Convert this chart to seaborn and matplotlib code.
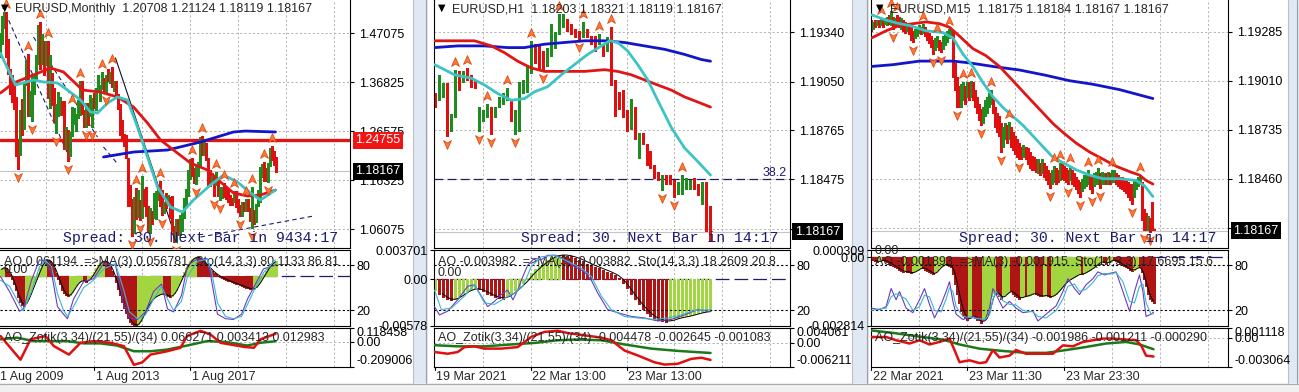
import numpy as np
import pandas as pd
import matplotlib
matplotlib.use("Agg")
import matplotlib.pyplot as plt
import matplotlib.transforms as mtransforms
from matplotlib.path import Path
from matplotlib.patches import Rectangle
import seaborn as sns

# ---------------- EURUSD Monthly (left window), Aug 2009 .. Mar 2021 ----------------
mn_open0 = 1.4150
mn_high = [1.4447, 1.4721, 1.5061, 1.5144, 1.5145,
           1.4580, 1.3966, 1.3841, 1.3695, 1.3373, 1.2468, 1.3111, 1.3334, 1.3649, 1.4158, 1.4283, 1.3500,
           1.3862, 1.3862, 1.4249, 1.4880, 1.4940, 1.4699, 1.4539, 1.4549, 1.4550, 1.4247, 1.3876, 1.3555,
           1.3234, 1.3487, 1.3385, 1.3283, 1.3283, 1.2747, 1.2691, 1.2637, 1.3172, 1.3140, 1.3011, 1.3308,
           1.3711, 1.3711, 1.3100, 1.3244, 1.3243, 1.3415, 1.3345, 1.3452, 1.3568, 1.3832, 1.3620, 1.3893,
           1.3775, 1.3825, 1.3967, 1.3906, 1.3993, 1.3700, 1.3700, 1.3443, 1.3221, 1.2887, 1.2600, 1.2570,
           1.2100, 1.1534, 1.1240, 1.1290, 1.1467, 1.1436, 1.1215, 1.1714, 1.1460, 1.1495, 1.1094, 1.1060,
           1.0985, 1.1376, 1.1410, 1.1464, 1.1616, 1.1428, 1.1186, 1.1366, 1.1327, 1.1278, 1.1300, 1.0675,
           1.0829, 1.0829, 1.0906, 1.0950, 1.1268, 1.1446, 1.1846, 1.2070, 1.2092, 1.1880, 1.1961, 1.2023,
           1.2537, 1.2556, 1.2476, 1.2414, 1.2097, 1.1852, 1.1791, 1.1745, 1.1815, 1.1625, 1.1500, 1.1486,
           1.1570, 1.1489, 1.1448, 1.1324, 1.1265, 1.1412, 1.1412, 1.1249, 1.1109, 1.1179, 1.1175, 1.1240,
           1.1239, 1.1053, 1.1495, 1.1019, 1.1147, 1.1422, 1.1909, 1.1966, 1.2011, 1.1881, 1.1985, 1.2310,
           1.2349, 1.2243, 1.2112]
mn_low = [1.4046, 1.4212, 1.4483, 1.4826, 1.4219,
          1.3858, 1.3444, 1.3267, 1.3114, 1.2143, 1.1876, 1.2153, 1.2589, 1.2709, 1.3628, 1.2970, 1.2969,
          1.2872, 1.3429, 1.3748, 1.4058, 1.3968, 1.4072, 1.3837, 1.4052, 1.3361, 1.3145, 1.3211, 1.2858,
          1.2624, 1.2974, 1.3003, 1.2995, 1.2286, 1.2288, 1.2042, 1.2134, 1.2563, 1.2802, 1.2661, 1.2927,
          1.3000, 1.3019, 1.2746, 1.2745, 1.2796, 1.2981, 1.2755, 1.3150, 1.3105, 1.3478, 1.3296, 1.3548,
          1.3478, 1.3476, 1.3705, 1.3673, 1.3590, 1.3503, 1.3366, 1.3131, 1.2571, 1.2500, 1.2358, 1.2097,
          1.1097, 1.1098, 1.0458, 1.0520, 1.0818, 1.0868, 1.0809, 1.0845, 1.1087, 1.0896, 1.0558, 1.0522,
          1.0711, 1.0835, 1.0821, 1.1217, 1.1098, 1.0912, 1.0952, 1.1045, 1.1122, 1.0852, 1.0569, 1.0352,
          1.0340, 1.0494, 1.0495, 1.0570, 1.0839, 1.1119, 1.1313, 1.1662, 1.1717, 1.1574, 1.1554, 1.1718,
          1.1915, 1.2155, 1.2155, 1.2055, 1.1510, 1.1508, 1.1575, 1.1301, 1.1525, 1.1301, 1.1216, 1.1268,
          1.1289, 1.1233, 1.1176, 1.1111, 1.1107, 1.1181, 1.1070, 1.0960, 1.0879, 1.0879, 1.0981, 1.0981,
          1.0992, 1.0778, 1.0636, 1.0727, 1.0766, 1.1100, 1.1185, 1.1696, 1.1612, 1.1622, 1.1603, 1.1925,
          1.2055, 1.1952, 1.1812]
mn_close = [1.4325, 1.4637, 1.4719, 1.5005, 1.4321,
            1.3867, 1.3626, 1.3510, 1.3295, 1.2276, 1.2230, 1.3049, 1.2693, 1.3630, 1.3912, 1.2990, 1.3384,
            1.3692, 1.3806, 1.4163, 1.4806, 1.4390, 1.4500, 1.4393, 1.4397, 1.3390, 1.3860, 1.3449, 1.2960,
            1.3082, 1.3327, 1.3341, 1.3236, 1.2356, 1.2663, 1.2304, 1.2577, 1.2859, 1.2960, 1.2986, 1.3193,
            1.3577, 1.3055, 1.2819, 1.3168, 1.2999, 1.3008, 1.3302, 1.3222, 1.3524, 1.3582, 1.3590, 1.3743,
            1.3486, 1.3803, 1.3769, 1.3869, 1.3636, 1.3692, 1.3389, 1.3131, 1.2629, 1.2525, 1.2452, 1.2100,
            1.1290, 1.1196, 1.0731, 1.1225, 1.0986, 1.1146, 1.0980, 1.1212, 1.1177, 1.1003, 1.0565, 1.0857,
            1.0831, 1.0873, 1.1380, 1.1451, 1.1130, 1.1102, 1.1174, 1.1157, 1.1240, 1.0983, 1.0589, 1.0520,
            1.0798, 1.0576, 1.0652, 1.0896, 1.1244, 1.1425, 1.1842, 1.1906, 1.1814, 1.1646, 1.1902, 1.2005,
            1.2414, 1.2194, 1.2324, 1.2079, 1.1693, 1.1684, 1.1690, 1.1600, 1.1604, 1.1310, 1.1316, 1.1467,
            1.1448, 1.1372, 1.1216, 1.1215, 1.1168, 1.1372, 1.1077, 1.0985, 1.0899, 1.1152, 1.1018, 1.1212,
            1.1093, 1.1025, 1.1030, 1.0955, 1.1100, 1.1232, 1.1778, 1.1936, 1.1720, 1.1646, 1.1928, 1.2216,
            1.2136, 1.2071, 1.1817]
mn_ma_fast_x = [1.5, 9, 18, 23, 30, 35, 41.5, 46.5, 50, 55, 60, 65, 70, 75, 80, 86.5, 92.5, 98, 106.5, 113, 120, 126.5, 131.5, 139]
mn_ma_fast = [1.4289, 1.3626, 1.3731, 1.3689, 1.3668, 1.3521, 1.3312, 1.3061, 1.3040, 1.3249, 1.3375, 1.3312,
              1.2747, 1.2119, 1.1492, 1.1073, 1.0969, 1.1220, 1.1534, 1.1743, 1.1597, 1.1367, 1.1220, 1.1429]
mn_ma_mid_x = [1.5, 8, 18, 26.5, 33, 42.5, 51.5, 60, 68, 75, 81.5, 88, 96.5, 105, 111.5, 118, 125, 131.5, 139]
mn_ma_mid = [1.3459, 1.3668, 1.3835, 1.3982, 1.3898, 1.3521, 1.3479, 1.3375, 1.3166, 1.2831, 1.2475, 1.2266,
             1.1994, 1.1848, 1.1597, 1.1367, 1.1304, 1.1325, 1.1429]
mn_ma_slow_x = [53, 68, 85, 101.5, 118, 124, 139]
mn_ma_slow = [1.2120, 1.2224, 1.2266, 1.2433, 1.2643, 1.2663, 1.2643]
mn_ao = [0.020, 0.028, 0.034, 0.036, 0.032, 0.022, 0.008, -0.010, -0.032, -0.055,
         -0.080, -0.100, -0.112, -0.115, -0.104, -0.088, -0.068, -0.048, -0.028, -0.010,
         0.012, 0.032, 0.050, 0.060, 0.066, 0.066, 0.060, 0.048, 0.032, 0.012,
         -0.010, -0.032, -0.052, -0.066, -0.075, -0.078, -0.072, -0.060, -0.046, -0.034,
         -0.024, -0.018, -0.016, -0.020, -0.022, -0.016, -0.008, 0.004, 0.018, 0.032,
         0.044, 0.054, 0.060, 0.062, 0.060, 0.052, 0.040, 0.022, 0.002, -0.022,
         -0.048, -0.074, -0.100, -0.124, -0.146, -0.164, -0.178, -0.187, -0.192, -0.194,
         -0.188, -0.176, -0.160, -0.142, -0.126, -0.112, -0.100, -0.090, -0.082, -0.078,
         -0.074, -0.070, -0.068, -0.070, -0.074, -0.078, -0.080, -0.076, -0.066, -0.052,
         -0.036, -0.018, 0.000, 0.018, 0.034, 0.048, 0.060, 0.068, 0.074, 0.076,
         0.075, 0.071, 0.064, 0.056, 0.047, 0.038, 0.029, 0.021, 0.014, 0.008,
         0.003, -0.002, -0.006, -0.010, -0.014, -0.017, -0.020, -0.023, -0.026, -0.029,
         -0.032, -0.035, -0.038, -0.041, -0.044, -0.047, -0.049, -0.050, -0.048, -0.042,
         -0.032, -0.020, -0.006, 0.008, 0.022, 0.034, 0.044, 0.052, 0.058, 0.061]
mn_sto_x = [1.5, 6, 11, 13, 17, 21, 24, 27, 30, 33, 35, 38, 43, 48, 53, 59, 63, 66, 70, 74,
            78, 82, 85, 88, 92, 95, 100, 105, 107, 110, 114, 118, 122, 125, 128, 133, 139]
mn_sto_k = [65, 45, 19, 22, 60, 87, 85, 70, 25, 15, 9, 35, 58, 62, 82, 80, 30, 10, 8, 18,
            45, 55, 22, 18, 40, 80, 88, 88, 60, 15, 9, 8, 15, 35, 50, 75, 80]
mn_sto_d = [60, 52, 28, 20, 45, 78, 86, 78, 42, 20, 12, 25, 50, 60, 75, 82, 48, 18, 9, 14,
            35, 52, 35, 20, 32, 65, 85, 88, 72, 30, 12, 9, 12, 28, 45, 70, 87]
mn_zr_x = [1.5, 11.5, 16.5, 24, 28.2, 35.7, 41.5, 48.2, 56.5, 63.2, 68.2, 72.3, 76.5, 84.8, 91.5, 94.8,
           101.5, 106.5, 111.5, 123.2, 128.2, 131.5, 139]
mn_zr = [0.047, -0.152, 0.019, 0.047, -0.038, -0.109, -0.010, 0.004, -0.010, -0.038, -0.195, -0.175,
         -0.109, -0.081, -0.052, 0.047, 0.090, 0.060, -0.010, -0.044, -0.052, 0.019, 0.066]
mn_zg_x = [1.5, 9.8, 18.2, 34.8, 43.2, 51.5, 59.8, 68.2, 76.5, 84.8, 94.8, 104.8, 114.8, 124.8, 131.5, 139]
mn_zg = [0.019, 0.033, 0.004, 0.004, -0.015, -0.015, -0.033, -0.081, -0.081, -0.067, -0.033, 0.004,
         -0.004, -0.033, -0.010, 0.0034]
mn_trend = [([4, 36.5], [1.513, 1.2057], '--'), ([18, 50], [1.463, 1.2538], '--'),
            ([53, 60.5], [1.233, 1.1952], '--'), ([59, 90], [1.4191, 1.0321], '-'),
            ([101.5, 158], [1.0446, 1.0885], '--')]

# ---------------- EURUSD H1 (middle window), 19 Mar 13:00 .. 24 Mar 10:00 ----------------
h1_high = [1.1898, 1.1909, 1.1904, 1.1904, 1.1886, 1.1912, 1.1911, 1.1911, 1.1913, 1.1909,
           1.1906, 1.1890, 1.1888, 1.1892, 1.1890, 1.1890, 1.1896, 1.1898, 1.1901, 1.1894,
           1.1888, 1.1905, 1.1906, 1.1914, 1.1929, 1.1927, 1.1927, 1.1923, 1.1925, 1.1939,
           1.1934, 1.1945, 1.1945, 1.1942, 1.1939, 1.1936, 1.1935, 1.1940, 1.1936, 1.1932,
           1.1932, 1.1933, 1.1927, 1.1931, 1.1937, 1.1906, 1.1899, 1.1900, 1.1888, 1.1895,
           1.1890, 1.1875, 1.1875, 1.1868, 1.1864, 1.1856, 1.1852, 1.1850, 1.1850, 1.1850,
           1.1847, 1.1846, 1.1850, 1.1848, 1.1847, 1.1848, 1.1845, 1.1846, 1.1846, 1.1832]
h1_low = [1.1890, 1.1894, 1.1896, 1.1873, 1.1876, 1.1884, 1.1900, 1.1905, 1.1906, 1.1902,
          1.1901, 1.1876, 1.1882, 1.1884, 1.1874, 1.1884, 1.1890, 1.1892, 1.1894, 1.1882,
          1.1874, 1.1876, 1.1898, 1.1899, 1.1910, 1.1916, 1.1913, 1.1912, 1.1914, 1.1920,
          1.1925, 1.1933, 1.1937, 1.1935, 1.1933, 1.1931, 1.1930, 1.1931, 1.1931, 1.1927,
          1.1923, 1.1927, 1.1920, 1.1923, 1.1903, 1.1885, 1.1889, 1.1884, 1.1876, 1.1877,
          1.1871, 1.1860, 1.1868, 1.1856, 1.1854, 1.1848, 1.1847, 1.1841, 1.1845, 1.1845,
          1.1837, 1.1839, 1.1839, 1.1842, 1.1842, 1.1842, 1.1838, 1.1833, 1.1817, 1.1812]
h1_dir = ("duuduududd" "duuuduuuud" "uuuuuddduu" "uuuddddudd" "dudu" "ddddd" "u"
          "du" "ddddd" "udd" "d" "uuuu" "dd" "u" "dd")
h1_ma_fast_x = [0, 5, 9.2, 12.5, 15.8, 19.2, 22.5, 25, 28.3, 31.7, 35, 38.3, 41.7, 43.75, 45.8, 48.3,
                50.8, 53.3, 55.8, 59.2, 62.5, 65.8, 69]
h1_ma_fast = [1.1915, 1.1909, 1.1907, 1.1903, 1.1898, 1.1894, 1.1895, 1.1899, 1.1902, 1.1909, 1.1915,
              1.1921, 1.1926, 1.1929, 1.1928, 1.1923, 1.1915, 1.1906, 1.1894, 1.1878, 1.1866, 1.1858, 1.1850]
h1_ma_mid_x = [0, 5.8, 10, 14.2, 17.5, 20.8, 24.2, 27.5, 32.5, 37.5, 42.5, 45.8, 49.2, 52.5, 55.8, 59.2, 62.5, 65.8, 69]
h1_ma_mid = [1.1929, 1.1929, 1.1929, 1.1926, 1.1922, 1.1917, 1.1913, 1.1911, 1.1911, 1.1911, 1.1912,
             1.1911, 1.1909, 1.1906, 1.1903, 1.1900, 1.1896, 1.1893, 1.1890]
h1_ma_slow_x = [0, 5.8, 12.5, 18.3, 22.5, 27.5, 32.5, 37.5, 42.5, 47.5, 52.5, 57.5, 62.5, 66.7, 69]
h1_ma_slow = [1.1925, 1.1926, 1.1926, 1.1925, 1.1925, 1.1927, 1.1928, 1.1929, 1.1929, 1.1928, 1.1926,
              1.1924, 1.1921, 1.1918, 1.1917]
h1_ao = [-0.0013, -0.0018, -0.0022, -0.0025, -0.0026,
         -0.0024, -0.0021, -0.0017, -0.0014, -0.0012, -0.0011,
         -0.0012, -0.0015, -0.0018, -0.0020, -0.0022, -0.0023, -0.0024,
         -0.0021, -0.0017, -0.0013, -0.0009, -0.0004, 0.0002, 0.0008,
         0.0013, 0.0017, 0.0021, 0.0025, 0.0028, 0.0030, 0.0031, 0.0031, 0.0030, 0.0029,
         0.0027, 0.0025, 0.0023, 0.0020, 0.0018, 0.0016, 0.0014, 0.0012, 0.0010, 0.0008, 0.0005, 0.0002,
         -0.0004, -0.0011, -0.0018, -0.0025, -0.0031, -0.0037, -0.0042, -0.0046, -0.0049, -0.0051, -0.0052, -0.0053,
         -0.0051, -0.0049, -0.0048, -0.0047, -0.0046, -0.0045, -0.0043, -0.0042, -0.0041, -0.0040, -0.00398]
h1_sto_kx = [0, 1.25, 3.3, 5.8, 8.3, 10, 11.7, 13.3, 15, 16.7, 18.3, 19.6, 20.8, 22.1, 23.3, 25, 26.7,
             28.3, 30.4, 32.5, 35, 37.5, 39.2, 40.8, 43.3, 45.8, 49.2, 52.5, 55.8, 59.2, 62.5, 65.8, 69]
h1_sto_k = [25, 14, 19, 34, 52, 54, 39, 25, 32, 41, 47, 34, 47, 65, 80, 89, 87, 93, 93, 87, 78, 71, 60,
            43, 21, 17, 12, 10, 6, 8, 14, 21, 18.3]
h1_sto_dx = [0, 1.7, 4.2, 7.5, 10, 12.5, 15, 17.5, 20, 22.1, 24.2, 26.7, 30, 33.3, 36.7, 39.2, 41.7,
             44.2, 47.5, 50.8, 55, 58.3, 61.7, 65, 69]
h1_sto_d = [47, 21, 23, 39, 54, 30, 28, 36, 43, 52, 78, 91, 93, 85, 76, 65, 39, 21, 12, 10, 8, 10, 14, 20, 20.8]
h1_zr_x = [0, 3.3, 5.8, 7.5, 10, 12.5, 16.7, 20.8, 24.2, 27.5, 30.8, 33.3, 37.5, 41.7, 44.2, 47.5, 50.8,
           55, 57.5, 60.8, 64.2, 66.7, 69]
h1_zr = [-0.0024, -0.00285, -0.0024, -0.0011, -0.0009, -0.0015, -0.0015, -0.0011, 0.0016, 0.0029, 0.0032,
         0.0026, 0.0020, 0.0014, 0.0007, -0.0020, -0.0033, -0.0051, -0.0057, -0.0055, -0.0042, -0.0039, -0.00448]
h1_zg_x = [0, 5.8, 12.5, 19.2, 25, 30.8, 35.8, 41.7, 47.5, 54.2, 60.8, 69]
h1_zg = [-0.0006, -0.0009, -0.0009, -0.0004, 0.0, 0.0007, 0.0009, 0.0007, -0.0004, -0.0015, -0.0021, -0.00265]

# ---------------- EURUSD M15 (right window), 22 Mar 23:30 .. 24 Mar 10:45 ----------------
m15_high = [1.1935, 1.1934, 1.1935, 1.1935, 1.1935, 1.1936, 1.1935, 1.1936, 1.1937, 1.1938,
            1.1940, 1.1937, 1.1936, 1.1938, 1.1937, 1.1936, 1.1935, 1.1934, 1.1933, 1.1932,
            1.1931, 1.1929, 1.1930, 1.1931, 1.1932, 1.1931, 1.1933, 1.1931, 1.1929, 1.1928,
            1.1926, 1.1924, 1.1925, 1.1926, 1.1924, 1.1923, 1.1926, 1.1927, 1.1929, 1.1930,
            1.1930, 1.1929, 1.1911, 1.1903, 1.1898, 1.1899, 1.1900, 1.1898, 1.1900, 1.1900,
            1.1901, 1.1900, 1.1896, 1.1892, 1.1888, 1.1885, 1.1886, 1.1890, 1.1892, 1.1894,
            1.1896, 1.1892, 1.1886, 1.1883, 1.1881, 1.1877, 1.1875, 1.1877, 1.1876, 1.1878,
            1.1875, 1.1872, 1.1870, 1.1868, 1.1866, 1.1864, 1.1865, 1.1864, 1.1863, 1.1861,
            1.1859, 1.1858, 1.1857, 1.1857, 1.1855, 1.1857, 1.1855, 1.1853, 1.1851, 1.1849,
            1.1851, 1.1853, 1.1852, 1.1851, 1.1855, 1.1854, 1.1853, 1.1852, 1.1851, 1.1853,
            1.1851, 1.1849, 1.1847, 1.1845, 1.1844, 1.1846, 1.1848, 1.1849, 1.1851, 1.1848,
            1.1847, 1.1849, 1.1850, 1.1852, 1.1849, 1.1850, 1.1849, 1.1849, 1.1850, 1.1849,
            1.1851, 1.1851, 1.1849, 1.1848, 1.1847, 1.1847, 1.1846, 1.1845, 1.1844, 1.1843,
            1.1843, 1.1845, 1.1846, 1.1847, 1.1848, 1.1844, 1.1829, 1.1827, 1.1825, 1.1824,
            1.1833, 1.1818]
m15_low = [1.1929, 1.1930, 1.1931, 1.1932, 1.1931, 1.1932, 1.1931, 1.1933, 1.1932, 1.1933,
           1.1932, 1.1930, 1.1931, 1.1932, 1.1931, 1.1930, 1.1929, 1.1928, 1.1929, 1.1927,
           1.1924, 1.1923, 1.1925, 1.1926, 1.1928, 1.1927, 1.1928, 1.1926, 1.1924, 1.1922,
           1.1920, 1.1916, 1.1918, 1.1920, 1.1918, 1.1917, 1.1919, 1.1921, 1.1923, 1.1925,
           1.1926, 1.1903, 1.1896, 1.1886, 1.1886, 1.1886, 1.1890, 1.1888, 1.1892, 1.1890,
           1.1892, 1.1890, 1.1886, 1.1883, 1.1879, 1.1876, 1.1877, 1.1881, 1.1883, 1.1886,
           1.1888, 1.1883, 1.1875, 1.1872, 1.1870, 1.1861, 1.1864, 1.1868, 1.1866, 1.1868,
           1.1864, 1.1862, 1.1860, 1.1858, 1.1857, 1.1857, 1.1858, 1.1857, 1.1854, 1.1852,
           1.1851, 1.1851, 1.1850, 1.1849, 1.1848, 1.1849, 1.1847, 1.1845, 1.1843, 1.1841,
           1.1843, 1.1844, 1.1843, 1.1844, 1.1845, 1.1846, 1.1845, 1.1844, 1.1843, 1.1845,
           1.1843, 1.1842, 1.1840, 1.1838, 1.1836, 1.1839, 1.1841, 1.1842, 1.1843, 1.1840,
           1.1838, 1.1842, 1.1843, 1.1843, 1.1841, 1.1843, 1.1843, 1.1843, 1.1843, 1.1843,
           1.1844, 1.1844, 1.1843, 1.1842, 1.1841, 1.1840, 1.1839, 1.1838, 1.1836, 1.1834,
           1.1832, 1.1836, 1.1840, 1.1842, 1.1843, 1.1823, 1.1817, 1.1817, 1.1817, 1.1816,
           1.1817, 1.1817]
m15_dir = ("dudududuud" "ududduddud" "dduuududdd" "dduudduuuu" "udddduudud"
           "u" "ddddd" "uuuu" "u" "ddddd" "uu" "d" "u" "dddddd" "u" "ddd"
           "ddd" "u" "d" "u" "dddd" "uu" "dd" "u" "dddd" "u" "ddddd" "uuuu" "d"
           "d" "uuu" "d" "uu" "d" "u" "d" "uu" "dddddddd" "d" "uuuu" "ddd" "u" "d" "dd")
m15_ma_fast_x = [0, 7.3, 14, 19, 27.3, 35.7, 40.7, 45.7, 50.7, 55.7, 60.7, 65.7, 70.7, 75.7, 80.7, 85.7,
                 90.7, 95.7, 102.3, 109, 115.7, 124, 132.3, 136.5, 140.7]
m15_ma_fast = [1.1938, 1.1935, 1.1933, 1.1932, 1.1929, 1.1928, 1.1925, 1.1916, 1.1909, 1.1900, 1.1892,
               1.1886, 1.1881, 1.1876, 1.1870, 1.1864, 1.1858, 1.1855, 1.1851, 1.1848, 1.1846, 1.1846,
               1.1845, 1.1842, 1.1836]
m15_ma_mid_x = [0, 7.3, 14, 20.7, 27.3, 34, 39, 44, 50.7, 57.3, 64, 70.7, 77.3, 84, 90.7, 95.7, 102.3,
                109, 115.7, 122.3, 129, 134, 137.3, 140.7]
m15_ma_mid = [1.1925, 1.1929, 1.1932, 1.1933, 1.1934, 1.1933, 1.1931, 1.1926, 1.1919, 1.1915, 1.1909,
              1.1901, 1.1893, 1.1885, 1.1877, 1.1872, 1.1866, 1.1861, 1.1857, 1.1853, 1.1850, 1.1848,
              1.1845, 1.1843]
m15_ma_slow_x = [0, 10.7, 24, 40.7, 49, 60.7, 74, 87.3, 99, 110.7, 124, 134, 140.7]
m15_ma_slow = [1.1909, 1.1910, 1.1912, 1.1912, 1.1911, 1.1909, 1.1907, 1.1904, 1.1901, 1.1899, 1.1896,
               1.1893, 1.1891]
m15_ao = [-0.0001, -0.0001, -0.00015, -0.0002, -0.00015, -0.0001, -0.0001, -0.00015, -0.0002,
          -0.00025, -0.0003, -0.00035, -0.0004, -0.00045, -0.0005, -0.00055, -0.0006, -0.00058,
          -0.0006, -0.00062, -0.00065, -0.0006, -0.00055, -0.0005, -0.00045,
          -0.0004, -0.00045, -0.0005, -0.00055, -0.0006, -0.00065, -0.0007, -0.0006,
          -0.0005, -0.0004, -0.00035, -0.0003, -0.00025, -0.0003, -0.00035, -0.0004,
          -0.0007, -0.0011, -0.0015, -0.0019, -0.0022, -0.0024, -0.0025, -0.0026, -0.0025,
          -0.0024, -0.0024, -0.0025, -0.0026, -0.0026, -0.0027, -0.0026, -0.0025, -0.0024,
          -0.0020, -0.0016, -0.00145, -0.0014, -0.0015, -0.0016, -0.0017, -0.0016, -0.0015, -0.00145,
          -0.0014, -0.0014, -0.0015, -0.0016,
          -0.00165, -0.0017, -0.00165, -0.0016, -0.0016, -0.00158, -0.00155, -0.0015, -0.00148, -0.0015,
          -0.00155, -0.0016, -0.0016, -0.00158, -0.00155, -0.0016, -0.00165, -0.0016, -0.00155, -0.0015, -0.0014,
          -0.0013, -0.0012, -0.0011, -0.0010, -0.00095, -0.0009, -0.00085, -0.0008,
          -0.00075, -0.0007, -0.00068, -0.0007, -0.00065, -0.0006, -0.00055, -0.0005, -0.00045, -0.0004,
          -0.0003, -0.00025, -0.0002, -0.00015, -0.0002, -0.00025, -0.0002, -0.00015, -0.0001, -0.0001,
          -0.00015, -0.0002, -0.00025, -0.0003, -0.00035, -0.0004, -0.00045, -0.0005, -0.00055, -0.0005,
          -0.00045, -0.0004, -0.0004,
          -0.0006, -0.0009, -0.0012, -0.0015, -0.0017, -0.0018, -0.0019]
m15_sto_x = [0, 4, 7.3, 9.8, 12.3, 14, 17.3, 20.7, 24, 26.5, 29, 31.5, 34.8, 37.3, 39, 40.7, 42.3, 45.7,
             50.7, 56.5, 59, 60.7, 62.3, 65.7, 69, 72.3, 75.7, 80.7, 83.2, 87.3, 92.3, 95.7, 98.2, 101.5,
             104, 107.3, 110.7, 113.2, 116.5, 119, 122.3, 125.7, 129, 131.5, 134, 135.7, 137.3, 139.8, 141]
m15_sto_k = [23, 21, 25, 49, 34, 45, 23, 17, 34, 49, 28, 10, 28, 45, 58, 32, 15, 8, 12, 6, 23, 49, 41, 23,
             32, 23, 17, 19, 6, 15, 26, 45, 62, 49, 41, 54, 62, 71, 67, 69, 71, 45, 19, 45, 67, 45, 12, 15, 17.7]
m15_sto_d = [20, 22, 23, 38, 42, 40, 35, 20, 25, 40, 38, 20, 18, 35, 50, 45, 25, 12, 10, 8, 14, 35, 45, 33,
             28, 27, 20, 18, 12, 10, 20, 35, 52, 55, 45, 48, 57, 66, 69, 68, 70, 58, 32, 30, 52, 55, 30, 15, 15.6]
m15_zr_x = [0, 7.3, 12.3, 19, 24, 29, 34, 39, 41.5, 44, 49, 54, 57.3, 60.7, 64, 69, 72.3, 77.3, 84, 90.7,
            95.7, 100.7, 105.7, 110.7, 115.7, 120.7, 127.3, 132.3, 134.8, 137.3, 141]
m15_zr = [0.0001, 0.0001, -0.00025, -0.0006, -0.00025, -0.0007, -0.00043, -0.00007, -0.0013, -0.0026,
          -0.0024, -0.0027, -0.0026, -0.0013, -0.0021, -0.0019, -0.0013, -0.0017, -0.0017, -0.0017,
          -0.0008, -0.0009, -0.00043, -0.00025, -0.00007, -0.00007, -0.00018, -0.00025, -0.0008, -0.0019, -0.00199]
m15_zg_x = [0, 10.7, 24, 35.7, 44, 54, 65.7, 77.3, 87.3, 97.3, 107.3, 117.3, 127.3, 134, 141]
m15_zg = [0.0008, 0.00054, 0.00014, -0.00018, -0.0007, -0.00115, -0.0014, -0.0016, -0.0016, -0.0013,
          -0.00097, -0.0006, -0.00043, -0.0007, -0.00121]

last_price = 1.18167

# ---------------- style ----------------
sns.set_style("white")
plt.rcParams['font.family'] = ['Liberation Sans', 'DejaVu Sans']
plt.rcParams['font.size'] = 9

GREEN = '#1f8c1f'
RED = '#e01010'
AO_UP = '#a2d640'
AO_DN = '#b01515'
GRID = '#b4b4b4'
NAVY = '#1c1c70'
CYAN = '#3cc4c4'
BLUE = '#1414c8'
MARED = '#e01515'
ORANGE = '#ff7a36'
BAR_LW = 0.75

W, H = 1299, 392
fig = plt.figure(figsize=(W / 100, H / 100), dpi=100, facecolor='white')

bg = fig.add_axes([0, 0, 1, 1])
bg.set_xlim(0, W)
bg.set_ylim(H, 0)
bg.axis('off')
bg.add_patch(Rectangle((0, 383), W, 9, fc='#f0f0f0', ec='none'))
bg.plot([0, W], [383.5, 383.5], color='#a8a8a8', lw=0.8)
for fx0, fx1 in [(413, 428), (852, 869), (1288, 1299)]:
    bg.add_patch(Rectangle((fx0, 0), fx1 - fx0, 383, fc='#dfe8f3', ec='none'))
    bg.plot([fx0 + 0.5, fx0 + 0.5], [0, 383], color='#c0c0c0', lw=0.8)
    bg.plot([fx1 - 1.5, fx1 - 1.5], [0, 383], color='#a0a0a0', lw=0.8)

UP_ARROW = Path([(0, 1), (0.8, -0.8), (0, -0.3), (-0.8, -0.8), (0, 1)],
                [Path.MOVETO, Path.LINETO, Path.LINETO, Path.LINETO, Path.CLOSEPOLY])
DN_ARROW = Path([(0, -1), (0.8, 0.8), (0, 0.3), (-0.8, 0.8), (0, -1)],
                [Path.MOVETO, Path.LINETO, Path.LINETO, Path.LINETO, Path.CLOSEPOLY])


def ax_px(x0, y0, x1, y1):
    return fig.add_axes([x0 / W, 1 - y1 / H, (x1 - x0) / W, (y1 - y0) / H])


def frame(ax, left=True, top=True):
    for sp in ax.spines.values():
        sp.set_color('black')
        sp.set_linewidth(0.8)
    ax.spines['left'].set_visible(left)
    ax.spines['top'].set_visible(top)
    ax.set_xticks([])
    ax.set_facecolor('white')


def hide_labels(ax):
    ax.xaxis.label.set_visible(False)
    ax.yaxis.label.set_visible(False)
    ax.xaxis.get_offset_text().set_visible(False)
    ax.yaxis.get_offset_text().set_visible(False)


def fractals(hi, lo):
    ups, dns = [], []
    for i in range(2, len(hi) - 2):
        if hi[i] > max(hi[i - 2:i]) and hi[i] >= max(hi[i + 1:i + 3]):
            ups.append(i)
        if lo[i] < min(lo[i - 2:i]) and lo[i] <= min(lo[i + 1:i + 3]):
            dns.append(i)
    return ups, dns


def line(ax, xs, ys, color, lw, **kw):
    sns.lineplot(x=list(xs), y=list(ys), ax=ax, color=color, linewidth=lw,
                 estimator=None, sort=False, legend=False, **kw)
    hide_labels(ax)


def right_ticks(ax, ticks, labels, pad):
    ax.yaxis.tick_right()
    ax.set_yticks(ticks, labels=labels)
    ax.tick_params(axis='y', length=3, width=0.8, pad=pad, labelsize=9, colors='black')


def draw_window(c):
    hi = np.array(c['hi'])
    lo = np.array(c['lo'])
    n = len(hi)
    idx = np.arange(n)
    ax = ax_px(c['x0'], 0, c['x1'], 248)
    ao_ax = ax_px(c['x0'], 250, c['x1'], 325.5)
    zo_ax = ax_px(c['x0'], 327.5, c['x1'], 366.5)
    for a, top in ((ax, False), (ao_ax, True), (zo_ax, True)):
        frame(a, left=c['left_spine'], top=top)
        a.set_xlim(*c['xlim'])
        a.vlines(c['gridx'], 0, 1, transform=a.get_xaxis_transform(), colors=GRID,
                 lw=0.7, linestyles=(0, (2.2, 2.2)), zorder=0)

    # ---- price window ----
    ax.set_ylim(*c['ylim'])
    ax.hlines(c['yticks'], *c['xlim'], colors=GRID, lw=0.7, linestyles=(0, (2.2, 2.2)), zorder=0)
    ax.axhline(last_price, color='#c4c4c4', lw=0.8, zorder=0.5)
    right_ticks(ax, c['yticks'], [f'{v:.5f}' if v not in c['hidden'] else '' for v in c['yticks']], pad=3.5)
    for xs, ys, st in c.get('trend', []):
        ax.plot(xs, ys, color=NAVY if st == '--' else '#101030', lw=0.8,
                ls=(0, (4, 3)) if st == '--' else '-', zorder=1)
    if 'hline' in c:
        ax.axhline(c['hline'], color=MARED, lw=2.4, zorder=1.5)
    if 'fibo' in c:
        ax.axhline(c['fibo'], color=NAVY, lw=0.9, ls=(0, (7, 3.5)), zorder=1)
        ax.annotate('38.2', xy=(1, c['fibo']), xycoords=ax.get_yaxis_transform(), xytext=(-3, 6.5),
                    textcoords='offset pixels', ha='right', va='center', color=NAVY, fontsize=9)
    colors = np.where(c['up'], GREEN, RED)
    ax.vlines(idx, lo, hi, colors=colors, lw=BAR_LW, antialiased=False, zorder=2)
    line(ax, c['slow_x'], c['slow'], BLUE, 2.0, zorder=3)
    line(ax, c['mid_x'], c['mid'], MARED, 2.0, zorder=3)
    line(ax, c['fast_x'], c['fast'], CYAN, 2.0, zorder=3)
    ups, dns = fractals(list(hi), list(lo))
    t_up = mtransforms.offset_copy(ax.transData, fig=fig, x=0, y=8, units='dots')
    t_dn = mtransforms.offset_copy(ax.transData, fig=fig, x=0, y=-8, units='dots')
    ax.plot(ups, hi[ups], ls='none', marker=UP_ARROW, ms=7, mfc=ORANGE, mec='#e04a14', mew=0.6,
            transform=t_up, zorder=4)
    ax.plot(dns, lo[dns], ls='none', marker=DN_ARROW, ms=7, mfc=ORANGE, mec='#e04a14', mew=0.6,
            transform=t_dn, zorder=4)
    ax.annotate('\u25bc', xy=(0, 1), xycoords='axes fraction', xytext=(c['tri_dx'], -8),
                textcoords='offset pixels', ha='center', va='center', fontsize=7,
                fontfamily='DejaVu Sans', color='black', zorder=6)
    ax.annotate(c['title'], xy=(0, 1), xycoords='axes fraction', xytext=(c['tri_dx'] + 10, -9),
                textcoords='offset pixels', ha='left', va='center', fontsize=9, zorder=6)
    ax.annotate(c['spread'], xy=(1, 0), xycoords='axes fraction', xytext=(-12, 10),
                textcoords='offset pixels', ha='right', va='center', fontsize=10.7,
                fontfamily=['Liberation Mono', 'DejaVu Sans Mono'], color=NAVY, zorder=6)
    for val, fc in c['boxes']:
        ax.annotate(f'{val:.5f}', xy=(1, val), xycoords=ax.get_yaxis_transform(), xytext=(5, 0),
                    textcoords='offset pixels', ha='left', va='center', color='white', fontsize=9,
                    bbox=dict(boxstyle='square,pad=0.2', fc=fc, ec='none'),
                    annotation_clip=False, zorder=7)

    # ---- AO + stochastic window ----
    ao = np.array(c['ao'])
    ao_up = np.r_[True, np.diff(ao) > 0]
    ao_ax.set_ylim(*c['ao_lim'])
    ao_ax.axhline(0, color=NAVY, lw=0.9, ls=(0, (11, 4)), zorder=1)
    ao_ax.vlines(idx[:len(ao)], 0, ao, colors=np.where(ao_up, AO_UP, AO_DN), lw=BAR_LW,
                 antialiased=False, zorder=2)
    sig = pd.Series(ao).rolling(3).mean().dropna()
    line(ao_ax, sig.index, sig.values, 'black', 0.7, zorder=3)
    right_ticks(ao_ax, [c['ao_lim'][1], 0, c['ao_lim'][0]], [c['ao_lab'][0], '0.00', c['ao_lab'][1]], pad=1.5)
    tl = ao_ax.get_yticklabels()
    tl[0].set_va('top')
    tl[2].set_va('bottom')
    ao_ax.annotate(c['ao_text'], xy=(0, 1), xycoords='axes fraction', xytext=(c['lab_dx'], -11.5),
                   textcoords='offset pixels', ha='left', va='center', fontsize=9, zorder=5)
    ao_ax.annotate('0.00', xy=(0, 0), xycoords=ao_ax.get_yaxis_transform(), xytext=(c['lab_dx'], 6.5),
                   textcoords='offset pixels', ha='left', va='center', fontsize=9, zorder=5)
    st = ao_ax.twinx()
    st.set_xlim(*c['xlim'])
    st.set_ylim(0, 100)
    for sp in st.spines.values():
        sp.set_visible(False)
    st.axhline(80, color='black', lw=0.8, ls=(0, (2, 2)), zorder=1)
    st.axhline(20, color='black', lw=0.8, ls=(0, (2, 2)), zorder=1)
    line(st, c['sto_kx'], c['sto_k'], '#6a3cc0', 0.8)
    line(st, c['sto_dx'], c['sto_d'], '#3cb4d8', 0.8)
    right_ticks(st, [80, 20], ['80', '20'], pad=1.5)
    st.set_xticks([])

    # ---- AO_Zotik window ----
    zo_ax.set_ylim(*c['zo_lim'])
    zo_ax.axhline(0, color=GRID, lw=0.7, ls=(0, (2.2, 2.2)), zorder=1)
    line(zo_ax, c['zg_x'], c['zg'], '#1a7a1a', 1.8, zorder=3)
    line(zo_ax, c['zr_x'], c['zr'], '#e01010', 1.8, zorder=3)
    right_ticks(zo_ax, [c['zo_lim'][1], 0, c['zo_lim'][0]], [c['zo_lab'][0], '0.00', c['zo_lab'][1]], pad=1.5)
    tl = zo_ax.get_yticklabels()
    tl[0].set_va('top')
    tl[2].set_va('bottom')
    zo_ax.annotate(c['zo_text'], xy=(0, 1), xycoords='axes fraction', xytext=(c['lab_dx'], -11),
                   textcoords='offset pixels', ha='left', va='center', fontsize=9, zorder=5)
    xt = zo_ax.get_xaxis_transform()
    for pos, txt in zip(c['date_x'], c['date_txt']):
        zo_ax.plot([pos, pos], [0, -0.09], transform=xt, color='black', lw=0.8, clip_on=False)
        zo_ax.annotate(txt, xy=(pos, 0), xycoords=xt, xytext=(2, -10.5), textcoords='offset pixels',
                       ha='left', va='center', fontsize=9, annotation_clip=False)
    for a in (ax, ao_ax, st, zo_ax):
        hide_labels(a)


mn_open = [mn_open0] + mn_close[:-1]
windows = [
    dict(x0=0, x1=350, xlim=(1.25, 176.25), ylim=(1.02163, 1.54041), left_spine=False,
         yticks=[1.47075, 1.36825, 1.26575, 1.16325, 1.06075], hidden=[], gridx=list(range(24, 169, 24)),
         hi=mn_high, lo=mn_low, up=np.array(mn_close) >= np.array(mn_open),
         fast_x=mn_ma_fast_x, fast=mn_ma_fast, mid_x=mn_ma_mid_x, mid=mn_ma_mid,
         slow_x=mn_ma_slow_x, slow=mn_ma_slow, trend=mn_trend, hline=1.24755,
         boxes=[(1.24755, '#f01414'), (last_price, 'black')], tri_dx=5,
         title='EURUSD,Monthly  1.20708 1.21124 1.18119 1.18167',
         spread='Spread: 30. Next Bar in 9434:17',
         ao=mn_ao, ao_lim=(-0.193694, 0.103862), ao_lab=('0.103862', '-0.193694'),
         ao_text='AO 0.061194  =>MA(3) 0.056781  Sto(14,3,3) 80.1133 86.81',
         sto_kx=mn_sto_x, sto_k=mn_sto_k, sto_dx=mn_sto_x, sto_d=mn_sto_d, lab_dx=4,
         zo_lim=(-0.209006, 0.118458), zo_lab=('0.118458', '-0.209006'),
         zo_text='AO_Zotik(3,34)/(21,55)/(34) 0.066271 0.003413 0.012983',
         zr_x=mn_zr_x, zr=mn_zr, zg_x=mn_zg_x, zg=mn_zg,
         date_x=[0, 48, 96], date_txt=['1 Aug 2009', '1 Aug 2013', '1 Aug 2017']),
    dict(x0=434, x1=790, xlim=(-0.125, 88.875), ylim=(1.18071, 1.19530), left_spine=True,
         yticks=[1.19340, 1.19050, 1.18765, 1.18475, 1.18185], hidden=[1.18185], gridx=list(range(12, 85, 12)),
         hi=h1_high, lo=h1_low, up=np.array([ch == 'u' for ch in h1_dir]),
         fast_x=h1_ma_fast_x, fast=h1_ma_fast, mid_x=h1_ma_mid_x, mid=h1_ma_mid,
         slow_x=h1_ma_slow_x, slow=h1_ma_slow, fibo=1.18475,
         boxes=[(last_price, 'black')], tri_dx=8,
         title='EURUSD,H1  1.18203 1.18321 1.18119 1.18167',
         spread='Spread: 30. Next Bar in 14:17',
         ao=h1_ao, ao_lim=(-0.00578, 0.003701), ao_lab=('0.003701', '-0.00578'),
         ao_text='AO -0.003982  =>MA(3) -0.003882  Sto(14,3,3) 18.2609 20.8',
         sto_kx=h1_sto_kx, sto_k=h1_sto_k, sto_dx=h1_sto_dx, sto_d=h1_sto_d, lab_dx=4,
         zo_lim=(-0.006211, 0.004061), zo_lab=('0.004061', '-0.006211'),
         zo_text='AO_Zotik(3,34)/(21,55)/(34) -0.004478 -0.002645 -0.001083',
         zr_x=h1_zr_x, zr=h1_zr, zg_x=h1_zg_x, zg=h1_zg,
         date_x=[0, 24, 48], date_txt=['19 Mar 2021', '22 Mar 13:00', '23 Mar 13:00']),
    dict(x0=871, x1=1228, xlim=(-0.25, 178.25), ylim=(1.18071, 1.19463), left_spine=True,
         yticks=[1.19285, 1.19010, 1.18735, 1.18460, 1.18185], hidden=[1.18185], gridx=list(range(24, 169, 24)),
         hi=m15_high, lo=m15_low, up=np.array([ch == 'u' for ch in m15_dir]),
         fast_x=m15_ma_fast_x, fast=m15_ma_fast, mid_x=m15_ma_mid_x, mid=m15_ma_mid,
         slow_x=m15_ma_slow_x, slow=m15_ma_slow,
         boxes=[(last_price, 'black')], tri_dx=9,
         title='EURUSD,M15  1.18175 1.18184 1.18167 1.18167',
         spread='Spread: 30. Next Bar in 14:17',
         ao=m15_ao, ao_lim=(-0.002814, 0.000309), ao_lab=('0.000309', '-0.002814'),
         ao_text='AO -0.001893  =>MA(3) -0.001915  Sto(14,3,3) 17.6695 15.6',
         sto_kx=m15_sto_x, sto_k=m15_sto_k, sto_dx=m15_sto_x, sto_d=m15_sto_d, lab_dx=4,
         zo_lim=(-0.003064, 0.001118), zo_lab=('0.001118', '-0.003064'),
         zo_text='AO_Zotik(3,34)/(21,55)/(34) -0.001986 -0.001211 -0.000290',
         zr_x=m15_zr_x, zr=m15_zr, zg_x=m15_zg_x, zg=m15_zg,
         date_x=[0, 48, 96], date_txt=['22 Mar 2021', '23 Mar 11:30', '23 Mar 23:30']),
]

for w in windows:
    draw_window(w)

fig.savefig('out.png', dpi=100, facecolor='white')
